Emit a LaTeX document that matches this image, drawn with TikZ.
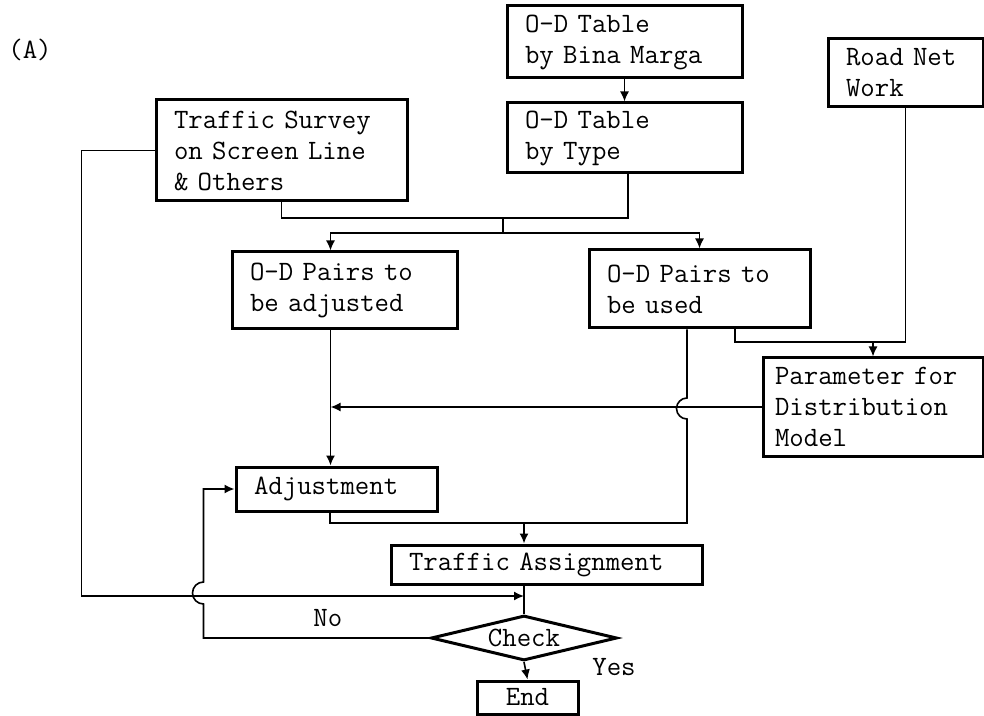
\documentclass[tikz,border=0pt]{standalone}
\usepackage{tikz}
\usetikzlibrary{arrows.meta, positioning, shapes.geometric}
\newcommand{\flowfont}{\fontsize{14}{15.5}\selectfont\ttfamily}

\begin{document}
\begin{tikzpicture}[x=0.5pt, y=-0.5pt,
  proc/.style={draw, line width=1.5pt, inner xsep=9pt, inner ysep=2pt,
               align=left, font=\flowfont},
  decision/.style={draw, diamond, line width=1.5pt, inner sep=0pt, aspect=4,
                   minimum width=93pt, minimum height=22.5pt, font=\flowfont},
  lbl/.style={font=\flowfont},
  flow/.style={line width=0.8pt},
  arr/.style={flow, -{Latex[length=5pt, width=4.5pt]}}
]
  \useasboundingbox (0,0) rectangle (984,716);
  % Input boxes
  \node[lbl] (tag) at (30,50) {(A)};
  \node[proc, text width=107.5pt, minimum height=50.5pt] (survey) at (281.5,150.5)
    {Traffic Survey\\on Screen Line\\\& Others};
  \node[proc, text width=99.5pt, minimum height=36pt] (bina) at (624.5,42)
    {O-D Table\\by Bina Marga};
  \node[proc, text width=99.5pt, minimum height=35pt] (type) at (624.5,138)
    {O-D Table\\by Type};
  \node[proc, text width=59.5pt, minimum height=34pt] (road) at (905.5,73)
    {Road Net\\Work};
  % Middle row
  \node[proc, text width=94.5pt, minimum height=38.5pt] (adjd) at (344.5,290.5)
    {O-D Pairs to\\be adjusted};
  \node[proc, text width=92.5pt, minimum height=39pt] (used) at (699.5,289)
    {O-D Pairs to\\be used};
  \node[proc, inner xsep=6pt, text width=98pt, minimum height=49pt] (param) at (873,407)
    {Parameter for\\Distribution\\Model};
  % Lower part
  \node[proc, text width=82.5pt, minimum height=22pt] (adjust) at (336.5,489)
    {Adjustment};
  \node[proc, text width=137.5pt, minimum height=19.5pt] (assign) at (546.5,564.5)
    {Traffic Assignment};
  \node[decision] (check) at (524,638) {Check};
  \node[proc, align=center, minimum width=50.5pt, minimum height=16.5pt] (endbox) at (527.5,697.5)
    {End};
  \node[lbl] (yes) at (614,667) {Yes};

  % Junction points
  \coordinate (merge) at (503,218);
  \coordinate (split) at (503,233);
  \coordinate (feed) at (873,342);
  \coordinate (collect) at (524,523);
  \coordinate (meet) at (524,596);

  % Tables into the two pair boxes
  \draw[arr] (bina) -- (type);
  \draw[flow] (survey.south) |- (merge) -| ([xshift=1.75pt]type.south);
  \draw[flow] (merge) -- (split);
  \draw[arr] (split) -| ([xshift=-7pt]adjd.north);
  \draw[arr] (split) -| (used.north);
  % Road network and used pairs into the model parameters
  \draw[flow] (road.south) |- (feed);
  \draw[flow] ([xshift=17.75pt]used.south) |- (feed);
  \draw[arr] (feed) -- (param.north);
  % Pairs down to adjustment / assignment
  \draw[arr] ([xshift=-7pt]adjd.south) -- ([xshift=-7pt]adjd.south |- adjust.north);
  \draw[arr] (param.west) -- ([xshift=-7pt]adjd.south |- param.west);
  \draw[flow] ([xshift=-6.25pt]used.south) -- ++(0,68.5)
    arc[start angle=90, end angle=270, radius=5.25pt] |- (collect);
  \draw[flow] ([xshift=-3.25pt]adjust.south) |- (collect);
  \draw[arr] (collect) -- (collect |- assign.north);
  % Assignment, survey counts and check
  \draw[flow] (assign.south -| check.north) -- (check.north);
  \draw[arr] (survey.west) -- ++(-73,0) |- (meet);
  \draw[arr] (check.west) -- node[lbl, pos=0.45, above=2pt] {No} ++(-226,0)
    -- ++(0,-34) arc[start angle=270, end angle=90, radius=5.5pt] |- (adjust.west);
  \draw[arr] (check.south) -- (endbox.north);
\end{tikzpicture}
\end{document}
